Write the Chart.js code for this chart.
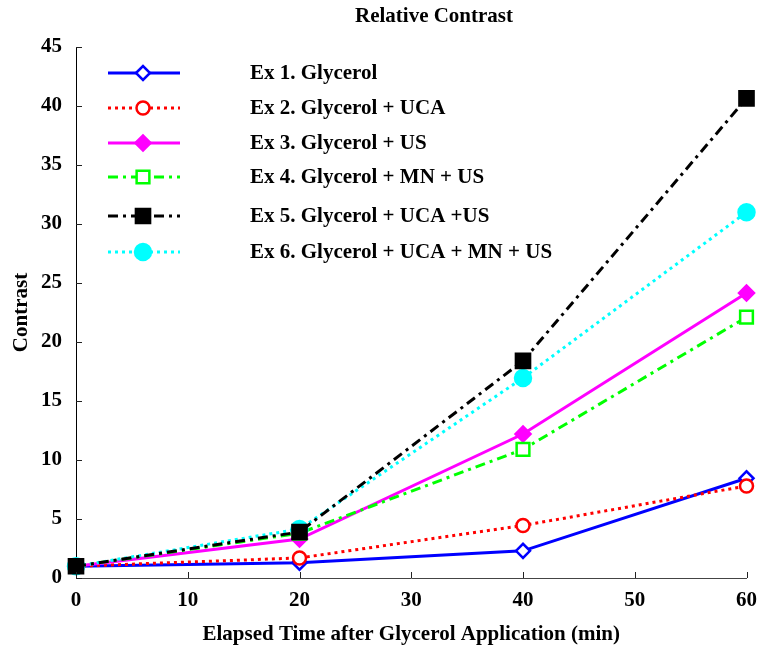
<!DOCTYPE html>
<html>
<head>
<meta charset="utf-8">
<script src="https://cdn.jsdelivr.net/npm/chart.js@4.4.0/dist/chart.umd.min.js"></script>
<style>
  html, body { margin: 0; padding: 0; background: #fff; }
  #wrap { width: 759px; height: 650px; }
</style>
</head>
<body>
<div id="wrap"><canvas id="c" width="759" height="650"></canvas></div>
<script>
const timePoints = [0, 20, 40, 60];
const seriesNames = [
  'Ex 1. Glycerol',
  'Ex 2. Glycerol + UCA',
  'Ex 3. Glycerol + US',
  'Ex 4. Glycerol + MN + US',
  'Ex 5. Glycerol + UCA +US',
  'Ex 6. Glycerol + UCA + MN + US'
];
const ex1 = [1.0, 1.3, 2.3, 8.45];
const ex2 = [1.0, 1.7, 4.45, 7.8];
const ex3 = [1.0, 3.3, 12.2, 24.15];
const ex4 = [1.0, 3.8, 10.9, 22.1];
const ex5 = [1.0, 3.9, 18.4, 40.65];
const ex6 = [1.0, 4.15, 16.95, 31.0];
const yTicks = [0, 5, 10, 15, 20, 25, 30, 35, 40, 45];
const xTicks = [0, 10, 20, 30, 40, 50, 60];
const chartTitle = 'Relative Contrast';

const FONT = "'Liberation Serif', 'Times New Roman', serif";
const FS = 21;

function pts(vals) { return timePoints.map((t, i) => ({ x: t, y: vals[i] })); }

const styles = [
  { color: '#0000FF', dash: [], pointStyle: 'rectRot', r: 7, fill: '#FFFFFF', order: 5 },
  { color: '#FF0000', dash: [3, 4], pointStyle: 'circle', r: 6.5, fill: '#FFFFFF', order: 4 },
  { color: '#FF00FF', dash: [], pointStyle: 'rectRot', r: 7.5, fill: '#FF00FF', order: 3 },
  { color: '#00FF00', dash: [10, 5, 3, 5], pointStyle: 'rect', r: 9, fill: '#FFFFFF', order: 2 },
  { color: '#000000', dash: [10, 5, 3, 5], pointStyle: 'rect', r: 10, fill: '#000000', order: 0 },
  { color: '#00FFFF', dash: [3, 4], pointStyle: 'circle', r: 8, fill: '#00FFFF', order: 1 }
];
const allSeries = [ex1, ex2, ex3, ex4, ex5, ex6];

const datasets = allSeries.map((vals, i) => ({
  label: seriesNames[i],
  data: pts(vals),
  borderColor: styles[i].color,
  backgroundColor: styles[i].fill,
  borderWidth: 3,
  borderDash: styles[i].dash,
  pointStyle: styles[i].pointStyle,
  pointRadius: styles[i].r,
  pointBorderWidth: 2.5,
  pointBorderColor: styles[i].color,
  pointBackgroundColor: styles[i].fill,
  tension: 0,
  fill: false,
  clip: false,
  order: styles[i].order
}));

const inwardTicks = {
  id: 'inwardTicks',
  afterDraw(chart) {
    const ctx = chart.ctx;
    const xs = chart.scales.x, ys = chart.scales.y;
    const area = chart.chartArea;
    ctx.save();
    ctx.strokeStyle = '#222';
    ctx.lineWidth = 1;
    ctx.beginPath();
    yTicks.forEach(v => {
      const py = Math.round(ys.getPixelForValue(v)) + 0.5;
      ctx.moveTo(area.left, py); ctx.lineTo(area.left + 6, py);
    });
    xTicks.forEach(v => {
      const px = Math.round(xs.getPixelForValue(v)) + 0.5;
      ctx.moveTo(px, area.bottom); ctx.lineTo(px, area.bottom - 6);
    });
    ctx.stroke();
    ctx.fillStyle = '#000';
    ctx.font = 'bold ' + FS + 'px ' + FONT;
    ctx.textAlign = 'center';
    ctx.textBaseline = 'middle';
    ctx.fillText(chartTitle, 434, 17);
    ctx.restore();
  }
};

const legendPlugin = {
  id: 'insideLegend',
  afterDraw(chart) {
    const ctx = chart.ctx;
    const rows = [73, 108, 143, 177, 216, 252];
    const x0 = 108, x1 = 180, xm = 143, xt = 250;
    ctx.save();
    chart.data.datasets.forEach((ds, i) => {
      const y = rows[i];
      ctx.strokeStyle = ds.borderColor;
      ctx.lineWidth = ds.borderWidth;
      ctx.setLineDash(ds.borderDash);
      ctx.beginPath();
      ctx.moveTo(x0, y); ctx.lineTo(x1, y);
      ctx.stroke();
      ctx.setLineDash([]);
      ctx.fillStyle = ds.pointBackgroundColor;
      ctx.strokeStyle = ds.pointBorderColor;
      ctx.lineWidth = ds.pointBorderWidth;
      Chart.helpers.drawPoint(ctx, { pointStyle: ds.pointStyle, radius: ds.pointRadius, rotation: 0, borderWidth: ds.pointBorderWidth }, xm, y);
      ctx.fillStyle = '#000';
      ctx.font = 'bold ' + FS + 'px ' + FONT;
      ctx.textBaseline = 'middle';
      ctx.textAlign = 'left';
      ctx.fillText(ds.label, xt, y + 1);
    });
    ctx.restore();
  }
};

new Chart(document.getElementById('c'), {
  type: 'line',
  data: { datasets },
  options: {
    responsive: false,
    animation: false,
    layout: { padding: { left: 0, right: 12, top: 47, bottom: 0 } },
    plugins: {
      legend: { display: false },
      tooltip: { enabled: false },
      title: { display: false }
    },
    scales: {
      x: {
        type: 'linear',
        min: 0, max: 60,
        afterFit(scale) { scale.height = 72; scale.paddingRight = 0; scale.paddingLeft = 0; },
        afterBuildTicks(scale) { scale.ticks = xTicks.map(v => ({ value: v })); },
        grid: { display: true, drawOnChartArea: false, drawTicks: false },
        border: { display: true, color: '#444', width: 1 },
        ticks: { color: '#000', font: { family: FONT, size: FS, weight: 'bold' }, padding: 10, maxRotation: 0 },
        title: {
          display: true,
          text: 'Elapsed Time after Glycerol Application (min)',
          color: '#000',
          font: { family: FONT, size: FS, weight: 'bold' },
          padding: { top: 0, bottom: 3 }
        }
      },
      y: {
        type: 'linear',
        min: 0, max: 45,
        afterFit(scale) { scale.width = 76; scale.paddingTop = 0; scale.paddingBottom = 0; },
        afterBuildTicks(scale) { scale.ticks = yTicks.map(v => ({ value: v })); },
        grid: { display: true, drawOnChartArea: false, drawTicks: false },
        border: { display: true, color: '#000', width: 1 },
        ticks: { color: '#000', font: { family: FONT, size: FS, weight: 'bold' }, padding: 14 },
        title: {
          display: true,
          text: 'Contrast',
          color: '#000',
          font: { family: FONT, size: FS, weight: 'bold' },
          padding: { top: 9, bottom: 0 }
        }
      }
    }
  },
  plugins: [inwardTicks, legendPlugin]
});
</script>
</body>
</html>
